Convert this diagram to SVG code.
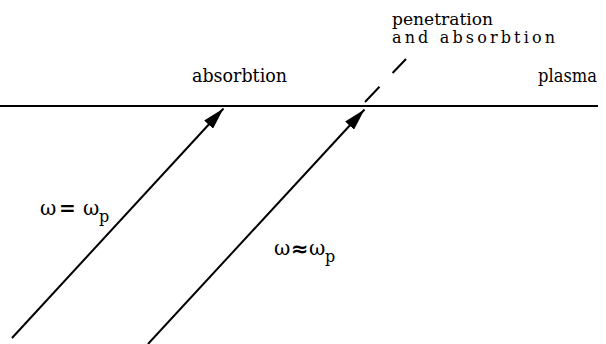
<svg xmlns="http://www.w3.org/2000/svg" width="606" height="344" viewBox="0 0 606 344">
<defs>
<style>
.ln{stroke:#000;stroke-width:2;fill:none}
.dash{stroke:#000;stroke-width:2;fill:none;stroke-dasharray:21 19}
</style>
<marker id="ah" viewBox="0 0 22 12" refX="22" refY="6" markerWidth="22" markerHeight="12" markerUnits="userSpaceOnUse" orient="auto">
<path d="M0,0 L22,6 L0,12 Z" fill="#000"/>
</marker>
</defs>
<g id="plasma-boundary">
<line class="ln" x1="0" y1="106" x2="598" y2="106"/>
</g>
<g id="connectors">
<line id="wave1" class="ln" x1="12" y1="338" x2="223.5" y2="108.5" marker-end="url(#ah)"/>
<line id="wave2" class="ln" x1="148" y1="344" x2="364.5" y2="109.5" marker-end="url(#ah)"/>
<line id="wave2-cont" class="dash" x1="365" y1="102" x2="406" y2="59"/>
</g>
<g font-family="DejaVu Serif, serif" font-size="18" fill="#000">
<g id="label-absorbtion">
<text x="192" y="82" textLength="95" lengthAdjust="spacingAndGlyphs">absorbtion</text>
</g>
<g id="label-penetration">
<text font-size="16"><tspan x="392" y="25" textLength="101" lengthAdjust="spacingAndGlyphs">penetration</tspan><tspan x="392" y="43" textLength="163" lengthAdjust="spacing">and absorbtion</tspan></text>
</g>
<g id="label-plasma">
<text x="538" y="82" textLength="59" lengthAdjust="spacingAndGlyphs">plasma</text>
</g>
<g id="label-eq">
<text font-size="20"><tspan x="40" y="215">ω</tspan><tspan x="59" y="215" font-weight="bold">=</tspan><tspan x="83" y="215">ω</tspan><tspan x="99" y="222" font-size="16">p</tspan></text>
</g>
<g id="label-approx">
<text font-size="20"><tspan x="274" y="255">ω</tspan><tspan x="291" y="256" font-family="DejaVu Sans" font-size="21" font-weight="bold">≈</tspan><tspan x="309" y="255">ω</tspan><tspan x="325" y="262" font-size="16">p</tspan></text>
</g>
</g>
</svg>
